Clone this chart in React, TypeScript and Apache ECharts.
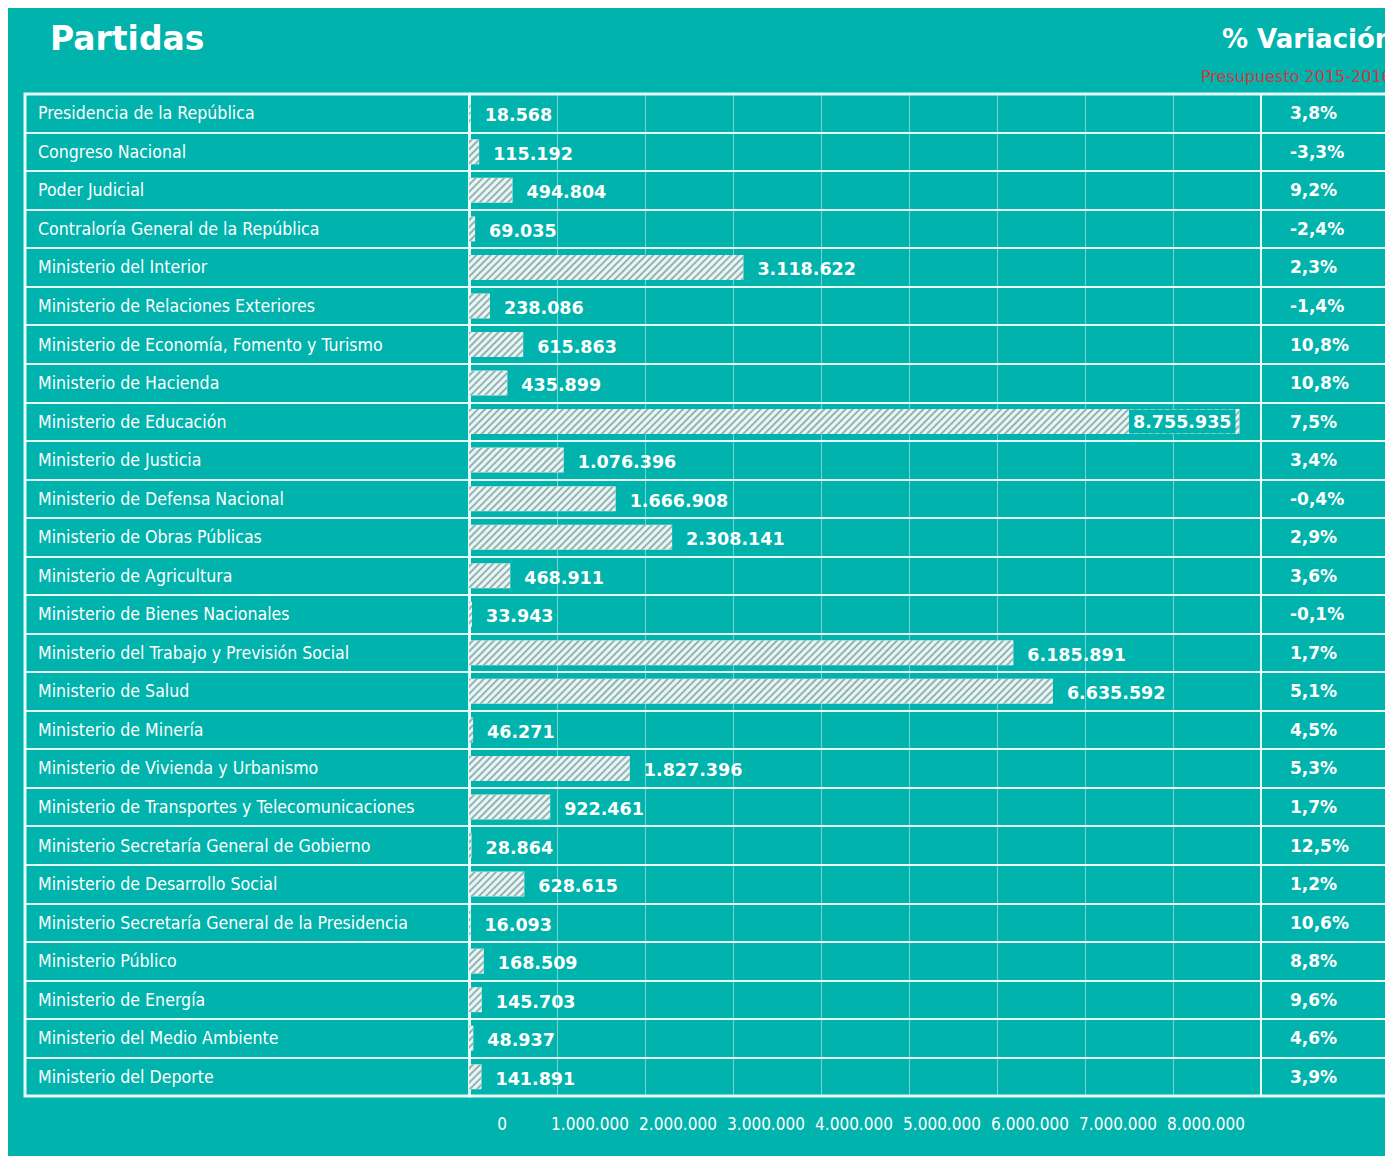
import React, { useEffect, useRef } from 'react';
import * as echarts from 'echarts';

// ---- data ----
const categories = [
  'Presidencia de la República',
  'Congreso Nacional',
  'Poder Judicial',
  'Contraloría General de la República',
  'Ministerio del Interior',
  'Ministerio de Relaciones Exteriores',
  'Ministerio de Economía, Fomento y Turismo',
  'Ministerio de Hacienda',
  'Ministerio de Educación',
  'Ministerio de Justicia',
  'Ministerio de Defensa Nacional',
  'Ministerio de Obras Públicas',
  'Ministerio de Agricultura',
  'Ministerio de Bienes Nacionales',
  'Ministerio del Trabajo y Previsión Social',
  'Ministerio de Salud',
  'Ministerio de Minería',
  'Ministerio de Vivienda y Urbanismo',
  'Ministerio de Transportes y Telecomunicaciones',
  'Ministerio Secretaría General de Gobierno',
  'Ministerio de Desarrollo Social',
  'Ministerio Secretaría General de la Presidencia',
  'Ministerio Público',
  'Ministerio de Energía',
  'Ministerio del Medio Ambiente',
  'Ministerio del Deporte',
];

const amounts = [
  18568, 115192, 494804, 69035, 3118622, 238086, 615863, 435899, 8755935,
  1076396, 1666908, 2308141, 468911, 33943, 6185891, 6635592, 46271, 1827396,
  922461, 28864, 628615, 16093, 168509, 145703, 48937, 141891,
];

const variation = [
  3.8, -3.3, 9.2, -2.4, 2.3, -1.4, 10.8, 10.8, 7.5, 3.4, -0.4, 2.9, 3.6, -0.1,
  1.7, 5.1, 4.5, 5.3, 1.7, 12.5, 1.2, 10.6, 8.8, 9.6, 4.6, 3.9,
];

const axisMin = 0;
const axisMax = 9000000;
const axisStep = 1000000;
const lastLabeledTick = 8000000;

// ---- styles ----
const TEAL = '#00b3ac';
const LINE = '#e6fbfa';
const BAR = '#e6f7f6';
const STRIPE = '#98b2b2';
const NARROW = "'DejaVu Sans Condensed', 'Liberation Sans Narrow', sans-serif";
const WIDE = "'DejaVu Sans', Verdana, sans-serif";

const dots = (n: number) => String(Math.round(n)).replace(/\B(?=(\d{3})+(?!\d))/g, '.');
const pctFmt = (p: number) => p.toFixed(1).replace('.', ',') + '%';

function buildOption() {
  const barData = amounts.map((v) =>
    v > lastLabeledTick
      ? {
          value: v,
          label: {
            position: 'insideRight',
            distance: 4,
            backgroundColor: TEAL,
            padding: [3, 4, 3, 4],
            offset: [0, 0],
          },
        }
      : v
  );

  return {
    animation: false,
    backgroundColor: TEAL,
    title: [
      {
        text: 'Partidas',
        left: 42,
        top: 14,
        padding: 0,
        textStyle: { color: '#ffffff', fontFamily: WIDE, fontWeight: 'bold', fontSize: 33 },
      },
      {
        text: '% Variación',
        left: 1214,
        top: 18,
        padding: 0,
        textStyle: { color: '#ffffff', fontFamily: WIDE, fontWeight: 'bold', fontSize: 26 },
      },
      {
        text: 'Presupuesto 2015-2016',
        left: 1193,
        top: 60,
        padding: 0,
        textStyle: { color: '#cc3b44', fontFamily: WIDE, fontWeight: 'normal', fontSize: 16 },
      },
    ],
    grid: [
      {
        left: 17,
        top: 86,
        width: 1367,
        height: 1002,
        show: true,
        borderColor: LINE,
        borderWidth: 3,
        backgroundColor: 'transparent',
      },
      {
        left: 461,
        top: 86,
        width: 792,
        height: 1002,
        show: true,
        borderColor: LINE,
        borderWidth: 2,
        backgroundColor: 'transparent',
      },
    ],
    xAxis: [
      { gridIndex: 0, type: 'value', show: false },
      {
        gridIndex: 1,
        type: 'value',
        min: axisMin,
        max: axisMax,
        interval: axisStep,
        axisLine: { show: false },
        axisTick: { show: false },
        splitLine: { show: true, lineStyle: { color: 'rgba(255,255,255,0.45)', width: 1 } },
        axisLabel: {
          color: '#ffffff',
          fontFamily: NARROW,
          fontSize: 17,
          margin: 19,
          padding: [0, 0, 0, 66],
          formatter: (v: number) => (v > lastLabeledTick ? '' : dots(v)),
        },
      },
    ],
    yAxis: [
      {
        gridIndex: 0,
        type: 'category',
        inverse: true,
        data: categories,
        axisLine: { show: false },
        axisTick: { show: false },
        splitLine: { show: true, lineStyle: { color: LINE, width: 2 } },
        axisLabel: {
          inside: true,
          align: 'left',
          margin: 13,
          padding: [4, 0, 0, 0],
          color: '#ffffff',
          fontFamily: NARROW,
          fontSize: 17.6,
        },
      },
      {
        gridIndex: 1,
        type: 'category',
        inverse: true,
        data: categories,
        axisLine: { show: true, lineStyle: { color: LINE, width: 3 } },
        axisTick: { show: false },
        axisLabel: { show: false },
        splitLine: { show: false },
      },
      {
        gridIndex: 1,
        type: 'category',
        inverse: true,
        position: 'right',
        data: categories,
        axisLine: { show: false },
        axisTick: { show: false },
        splitLine: { show: false },
        axisLabel: {
          align: 'left',
          margin: 29,
          color: '#ffffff',
          fontFamily: WIDE,
          fontWeight: 'bold',
          fontSize: 17,
          formatter: (_v: string, i: number) => pctFmt(variation[i]),
        },
      },
    ],
    series: [
      {
        type: 'bar',
        xAxisIndex: 1,
        yAxisIndex: 1,
        data: barData,
        barWidth: 25,
        itemStyle: {
          color: BAR,
          decal: {
            symbol: 'rect',
            symbolSize: 1,
            color: STRIPE,
            dashArrayX: [1, 0],
            dashArrayY: [2, 3],
            rotation: -Math.PI / 4,
          },
        },
        label: {
          show: true,
          position: 'right',
          distance: 14,
          offset: [0, 2],
          color: '#ffffff',
          fontFamily: WIDE,
          fontWeight: 'bold',
          fontSize: 17.5,
          formatter: (p: any) => dots(p.value),
        },
      },
    ],
  };
}

export default function App() {
  const ref = useRef<HTMLDivElement>(null);
  useEffect(() => {
    document.documentElement.style.overflow = 'hidden';
    document.body.style.overflow = 'hidden';
    const chart = echarts.init(ref.current as HTMLDivElement, null, { renderer: 'svg' });
    chart.setOption(buildOption() as any);
    return () => chart.dispose();
  }, []);
  return <div ref={ref} style={{ width: 1385, height: 1148, background: TEAL }} />;
}
